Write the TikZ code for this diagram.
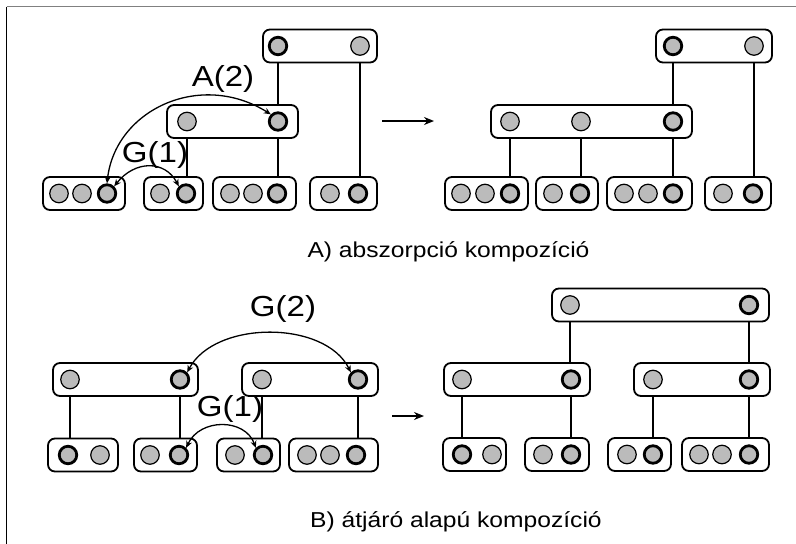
\documentclass[tikz,border=0pt]{standalone}
\usepackage{fontspec}
\usetikzlibrary{arrows.meta}
\newfontfamily\capfont[FakeStretch=1.14]{Liberation Sans}
\newfontfamily\labfont[FakeStretch=1.14]{Liberation Sans}
\definecolor{cfill}{HTML}{BBBBBB}
\tikzset{
  x=1pt, y=-1pt,
  rbox/.style={draw, rounded corners=7, line width=1.8, minimum height=33, inner sep=0},
  lc/.style={circle, draw, fill=cfill, line width=1.2, minimum size=18.5, inner sep=0},
  dc/.style={circle, draw, fill=cfill, line width=2.8, minimum size=17.5, inner sep=0},
  linkline/.style={line width=1.4},
  dblarrow/.style={line width=1.3, {Stealth[length=7pt,width=6pt]}-{Stealth[length=7pt,width=6pt]}},
  midarrow/.style={line width=1.4, -{Stealth[length=10pt,width=8pt]}},
  captext/.style={font=\capfont\fontsize{21.6}{24}\selectfont, inner sep=0},
  labtext/.style={font=\labfont\fontsize{29}{32}\selectfont, inner sep=0},
}
\begin{document}
\begin{tikzpicture}
\useasboundingbox (0,0) rectangle (796,544);
\coordinate (f1) at (6.5,6.5);
\coordinate (f2) at (796,6.5);
\coordinate (f3) at (6.5,544);
\draw[line width=1.6, gray] (f1) -- (f2);
\draw[line width=1.6] (f1) -- (f3);

% ---------------- Panel A left ----------------
\node[rbox, minimum width=114] (TA) at (320,46) {};
\node[dc] (TAa) at (278,46) {};
\node[lc] (TAb) at (360,46) {};
\node[rbox, minimum width=131] (MA) at (232.5,121.5) {};
\node[lc] (MAa) at (187,121.5) {};
\node[dc] (MAb) at (278,121.5) {};
\node[rbox, minimum width=82] (BA1) at (84,193.5) {};
\node[lc] (BA1a) at (59,193.5) {};
\node[lc] (BA1b) at (82,193.5) {};
\node[dc] (BA1c) at (107,193.5) {};
\node[rbox, minimum width=59] (BA2) at (173.5,193.5) {};
\node[lc] (BA2a) at (160,193.5) {};
\node[dc] (BA2b) at (186,193.5) {};
\node[rbox, minimum width=83] (BA3) at (254.5,193.5) {};
\node[lc] (BA3a) at (230,193.5) {};
\node[lc] (BA3b) at (253,193.5) {};
\node[dc] (BA3c) at (277,193.5) {};
\node[rbox, minimum width=67] (BA4) at (343.5,193.5) {};
\node[lc] (BA4a) at (330,193.5) {};
\node[dc] (BA4b) at (358,193.5) {};
\draw[linkline] (TAa |- TA.south) -- (TAa |- MA.north);
\draw[linkline] (TAb |- TA.south) -- (TAb |- BA4.north);
\draw[linkline] (MAa |- MA.south) -- (MAa |- BA2.north);
\draw[linkline] (MAb |- MA.south) -- (MAb |- BA3.north);
\draw[dblarrow] (BA1c.north) .. controls (115,110) and (200,70) .. (MAb.north west);
\draw[dblarrow] (BA1c.north east) .. controls (135,160) and (165,160) .. (BA2b.north west);
\node[labtext] (lA2) at (223,79) {A(2)};
\node[labtext] (lG1a) at (155,155) {G(1)};

\coordinate (arA0) at (382,121);
\coordinate (arA1) at (434,121);
\draw[midarrow] (arA0) -- (arA1);

% ---------------- Panel A right ----------------
\node[rbox, minimum width=116] (TR) at (714,46) {};
\node[dc] (TRa) at (673,46) {};
\node[lc] (TRb) at (754,46) {};
\node[rbox, minimum width=201] (MR) at (591.5,121.5) {};
\node[lc] (MRa) at (510,121.5) {};
\node[lc] (MRb) at (581,121.5) {};
\node[dc] (MRc) at (673,121.5) {};
\node[rbox, minimum width=83] (BR1) at (486.5,193.5) {};
\node[lc] (BR1a) at (461,193.5) {};
\node[lc] (BR1b) at (485,193.5) {};
\node[dc] (BR1c) at (510,193.5) {};
\node[rbox, minimum width=62] (BR2) at (567,193.5) {};
\node[lc] (BR2a) at (553,193.5) {};
\node[dc] (BR2b) at (580,193.5) {};
\node[rbox, minimum width=85] (BR3) at (649.5,193.5) {};
\node[lc] (BR3a) at (624,193.5) {};
\node[lc] (BR3b) at (648,193.5) {};
\node[dc] (BR3c) at (673,193.5) {};
\node[rbox, minimum width=66] (BR4) at (738,193.5) {};
\node[lc] (BR4a) at (723,193.5) {};
\node[dc] (BR4b) at (753,193.5) {};
\draw[linkline] (TRa |- TR.south) -- (TRa |- MR.north);
\draw[linkline] (TRb |- TR.south) -- (TRb |- BR4.north);
\draw[linkline] (MRa |- MR.south) -- (MRa |- BR1.north);
\draw[linkline] (MRb |- MR.south) -- (MRb |- BR2.north);
\draw[linkline] (MRc |- MR.south) -- (MRc |- BR3.north);

\node[captext, anchor=base] (capA) at (448.5,257.5) {A) abszorpció kompozíció};

% ---------------- Panel B left ----------------
\node[rbox, minimum width=145] (ML) at (125.5,379.5) {};
\node[lc] (MLa) at (70,379.5) {};
\node[dc] (MLb) at (180,379.5) {};
\node[rbox, minimum width=136] (MQ) at (310,379.5) {};
\node[lc] (MQa) at (262,379.5) {};
\node[dc] (MQb) at (358,379.5) {};
\node[rbox, minimum width=70] (B1) at (83,455) {};
\node[dc] (B1a) at (68,455) {};
\node[lc] (B1b) at (100,455) {};
\node[rbox, minimum width=63] (B2) at (165.5,455) {};
\node[lc] (B2a) at (150,455) {};
\node[dc] (B2b) at (179,455) {};
\node[rbox, minimum width=63] (B3) at (248.5,455) {};
\node[lc] (B3a) at (235,455) {};
\node[dc] (B3b) at (263,455) {};
\node[rbox, minimum width=89] (B4) at (333.5,455) {};
\node[lc] (B4a) at (307,455) {};
\node[lc] (B4b) at (330,455) {};
\node[dc] (B4c) at (356,455) {};
\draw[linkline] (MLa |- ML.south) -- (MLa |- B1.north);
\draw[linkline] (MLb |- ML.south) -- (MLb |- B2.north);
\draw[linkline] (MQa |- MQ.south) -- (MQa |- B3.north);
\draw[linkline] (MQb |- MQ.south) -- (MQb |- B4.north);
\draw[dblarrow] (MLb.north east) .. controls (215,320) and (325,320) .. (MQb.north west);
\draw[dblarrow] (B2b.north east) .. controls (200,418) and (245,418) .. (B3b.north west);
\node[labtext] (lG2) at (283,309) {G(2)};
\node[labtext] (lG1b) at (230,409) {G(1)};

\coordinate (arB0) at (392,416);
\coordinate (arB1) at (424,416);
\draw[midarrow] (arB0) -- (arB1);

% ---------------- Panel B right ----------------
\node[rbox, minimum width=217] (T) at (660.5,305) {};
\node[lc] (Ta) at (570,305) {};
\node[dc] (Tb) at (749,305) {};
\node[rbox, minimum width=146] (NL) at (517,379.5) {};
\node[lc] (NLa) at (462,379.5) {};
\node[dc] (NLb) at (571,379.5) {};
\node[rbox, minimum width=136] (NR) at (702,379.5) {};
\node[lc] (NRa) at (653,379.5) {};
\node[dc] (NRb) at (749,379.5) {};
\node[rbox, minimum width=63] (C1) at (474.5,454.5) {};
\node[dc] (C1a) at (462,454.5) {};
\node[lc] (C1b) at (492,454.5) {};
\node[rbox, minimum width=64] (C2) at (557,454.5) {};
\node[lc] (C2a) at (543,454.5) {};
\node[dc] (C2b) at (571,454.5) {};
\node[rbox, minimum width=63] (C3) at (639.5,454.5) {};
\node[lc] (C3a) at (627,454.5) {};
\node[dc] (C3b) at (653,454.5) {};
\node[rbox, minimum width=87] (C4) at (725.5,454.5) {};
\node[lc] (C4a) at (699,454.5) {};
\node[lc] (C4b) at (722,454.5) {};
\node[dc] (C4c) at (749,454.5) {};
\draw[linkline] (Ta |- T.south) -- (Ta |- NL.north);
\draw[linkline] (Tb |- T.south) -- (Tb |- NR.north);
\draw[linkline] (NLa |- NL.south) -- (NLa |- C1.north);
\draw[linkline] (NLb |- NL.south) -- (NLb |- C2.north);
\draw[linkline] (NRa |- NR.south) -- (NRa |- C3.north);
\draw[linkline] (NRb |- NR.south) -- (NRb |- C4.north);

\node[captext, anchor=base west] (capB) at (310,527) {B) átjáró alapú kompozíció};
\end{tikzpicture}
\end{document}
